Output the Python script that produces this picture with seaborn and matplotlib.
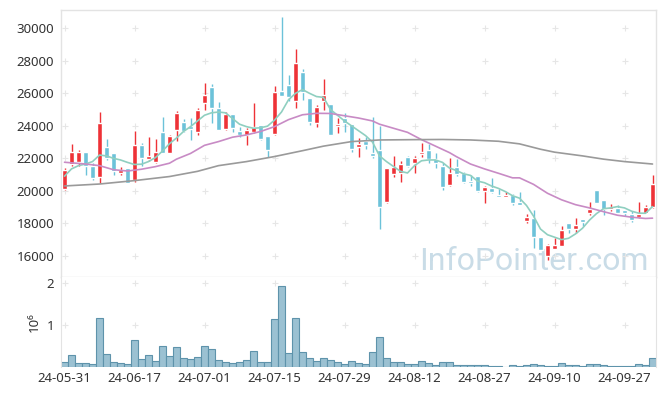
import numpy as np
import pandas as pd
import seaborn as sns
import matplotlib.pyplot as plt

# tick labels (every 10th trading day)
tick_labels = ["24-05-31", "24-06-17", "24-07-01", "24-07-15", "24-07-29",
               "24-08-12", "24-08-27", "24-09-10", "24-09-27"]

# daily prices (KRW)
opens = [20100, 21650, 21800, 22380, 21500, 20840, 22720, 22350, 21120, 21390,
         20670, 22820, 21940, 21800, 23620, 22350, 23750, 24260, 24000, 23640,
         25430, 26370, 25080, 23790, 24730, 23700, 23440, 23640, 24050, 23380,
         23500, 26160, 26510, 25550, 27330, 25690, 24200, 25550, 25340, 23990,
         24460, 24110, 22680, 23090, 22350, 22520, 19340, 21040, 21080, 22060,
         21700, 22270, 22520, 21940, 21530, 20360, 21450, 21080, 20630, 20920,
         20010, 20180, 19750, 19650, 19750, 19340, 18170, 18310, 17190, 16000,
         16410, 16610, 18050, 17640, 18250, 18660, 20060, 19440, 18870, 18930,
         18830, 18580, 18380, 18660, 18990]
highs = [21390, 22870, 22520, 22380, 21700, 24830, 23170, 22350, 21490, 21390,
         23680, 22970, 23290, 23170, 24520, 23440, 24930, 24400, 24460, 25080,
         26620, 26550, 25490, 24870, 24730, 23910, 23850, 25430, 24050, 23380,
         26450, 30670, 27130, 28710, 27480, 25690, 25280, 26860, 25340, 24460,
         24770, 24110, 23230, 23340, 24520, 23990, 21390, 22150, 21860, 22150,
         22150, 22925, 22880, 22310, 21700, 22000, 21940, 21180, 20980, 20920,
         20300, 20770, 20100, 19950, 19800, 19900, 18580, 18830, 17190, 16740,
         17090, 17840, 18050, 18310, 18250, 19340, 20060, 19440, 19200, 19140,
         18830, 18730, 19340, 19140, 20980]
lows = [20050, 21530, 21530, 20980, 20670, 20470, 21900, 20980, 20980, 20470,
        20570, 21530, 21840, 21700, 22310, 22350, 23090, 23640, 23130, 23440,
        24980, 24150, 23750, 23750, 23640, 23290, 22800, 23580, 23130, 22100,
        23440, 25840, 25550, 25080, 25590, 24050, 23950, 24980, 23440, 23540,
        23640, 22410, 22060, 22560, 22000, 17640, 19280, 20880, 20570, 21450,
        21120, 22110, 21740, 21390, 20060, 20300, 20920, 20470, 20300, 19950,
        19240, 19850, 19650, 19600, 19130, 19100, 18050, 16470, 16340, 15750,
        16410, 16580, 17390, 17390, 17840, 18520, 19240, 18520, 18790, 18660,
        18460, 18110, 18310, 18620, 18930]
closes = [21290, 22380, 22380, 21500, 20820, 24150, 22000, 21250, 21290, 20510,
          22820, 22000, 22150, 22390, 22310, 23380, 24770, 23700, 23800, 24980,
          25900, 25080, 23750, 24730, 23890, 23440, 23750, 23910, 23170, 22520,
          26100, 25840, 25800, 27890, 26100, 24260, 25140, 25900, 23440, 24090,
          24200, 22560, 22880, 22820, 22150, 18990, 21390, 21490, 21650, 21530,
          22000, 22410, 21940, 21700, 20260, 21080, 21050, 20570, 20510, 19990,
          20240, 19900, 19650, 19750, 19240, 19140, 18420, 17190, 16370, 16680,
          16680, 17600, 17640, 17900, 18110, 18870, 19240, 18870, 19030, 18660,
          18620, 18210, 18580, 19030, 20430]

# volume in millions of shares
volumes = [0.12, 0.29, 0.10, 0.10, 0.07, 1.18, 0.31, 0.12, 0.10, 0.07,
           0.65, 0.19, 0.29, 0.14, 0.50, 0.26, 0.48, 0.22, 0.19, 0.24,
           0.50, 0.43, 0.17, 0.12, 0.10, 0.12, 0.17, 0.38, 0.12, 0.12,
           1.15, 1.94, 0.34, 1.18, 0.36, 0.22, 0.14, 0.22, 0.17, 0.13,
           0.07, 0.14, 0.10, 0.07, 0.36, 0.72, 0.22, 0.12, 0.12, 0.07,
           0.07, 0.14, 0.10, 0.05, 0.12, 0.12, 0.05, 0.05, 0.05, 0.05,
           0.05, 0.02, 0.02, 0.005, 0.05, 0.02, 0.05, 0.07, 0.05, 0.02,
           0.02, 0.10, 0.05, 0.05, 0.02, 0.07, 0.07, 0.05, 0.02, 0.02,
           0.02, 0.02, 0.07, 0.05, 0.22]

# moving averages
ma5 = [20900, 21350, 21550, 21650, 21800, 22200, 22150, 22000, 21900, 21750,
       21620, 21640, 21800, 22050, 22450, 22900, 23250, 23650, 23950, 24300,
       24650, 24800, 24850, 24800, 24450, 24100, 23950, 23850, 23880, 23980,
       24350, 24850, 25600, 26000, 26230, 26000, 25800, 25750, 25000, 24650,
       24300, 24000, 23700, 23400, 23000, 22150, 21800, 21500, 21200, 21100,
       21550, 21850, 21900, 21900, 21750, 21400, 21250, 21050, 20950, 20600,
       20500, 20300, 20150, 19950, 19700, 19550, 19100, 18450, 17650, 17300,
       17150, 17000, 17080, 17350, 17700, 18200, 18600, 18900, 18950, 19030,
       18950, 18750, 18630, 18620, 19030]
ma20_day = [0, 3, 5, 7, 9, 11, 13, 15, 16, 18, 20, 22, 24, 26, 28, 30, 32, 34,
            36, 38, 40, 42, 44, 45, 47, 49, 51, 53, 55, 56, 58, 60, 62, 64, 65,
            67, 69, 71, 73, 75, 77, 79, 81, 83, 84]
ma20 = [21760, 21650, 21550, 21300, 21220, 21330, 21490, 21700, 21950, 22300,
        22800, 23030, 23300, 23440, 23650, 23950, 24380, 24680, 24770, 24760,
        24620, 24480, 24300, 24100, 23850, 23600, 23150, 22750, 22350, 22100,
        21650, 21350, 21080, 20800, 20800, 20400, 19850, 19450, 19150, 18950,
        18720, 18500, 18380, 18300, 18320]
ma_long_day = [0, 5, 10, 15, 19, 22, 26, 30, 34, 37, 41, 45, 50, 54, 58, 62, 65,
               68, 70, 74, 77, 80, 84]
ma_long = [20300, 20420, 20630, 20880, 21200, 21550, 21800, 22110, 22470, 22750,
           23030, 23130, 23150, 23160, 23130, 23050, 22890, 22560, 22380, 22150,
           21950, 21800, 21650]

days = np.arange(len(closes))
df = pd.DataFrame({"day": days, "open": opens, "high": highs, "low": lows,
                   "close": closes, "volume": volumes, "ma5": ma5})

sns.set_style("white")
plt.rcParams['font.family'] = ['Noto Sans', 'DejaVu Sans']

fig = plt.figure(figsize=(6.65, 3.96), dpi=100)
ax = fig.add_axes([61 / 665, 119 / 396, 595 / 665, 267 / 396])
axv = fig.add_axes([61 / 665, 29 / 396, 595 / 665, 90 / 396], sharex=ax)

red = "#ee3237"
blue = "#6cc2d9"
up = df["close"] >= df["open"]
colors = np.where(up, red, blue)

# watermark behind everything
ax.text(0.987, 0.025, "InfoPointer.com", transform=ax.transAxes, ha="right",
        va="baseline", fontsize=23, family="Roboto", color="#c9dce7", zorder=0)

# candles
ax.vlines(df["day"], df["low"], df["high"], colors=colors, linewidth=1, zorder=2)
body_lo = df[["open", "close"]].min(axis=1)
body_h = (df["close"] - df["open"]).abs().clip(lower=70)
ax.bar(df["day"], body_h, bottom=body_lo, width=0.7, color=colors, zorder=3)

# moving averages
sns.lineplot(x=days, y=ma5, ax=ax, color="#8fcfc0", linewidth=1.2, zorder=4)
sns.lineplot(x=ma20_day, y=ma20, ax=ax, color="#c88bc5", linewidth=1.2, zorder=4)
sns.lineplot(x=ma_long_day, y=ma_long, ax=ax, color="#9a9a9a", linewidth=1.2, zorder=4)

ax.set_xlim(-0.5, 84.5)
ax.set_ylim(14700, 31125)
yt = np.arange(16000, 30001, 2000)
ax.set_yticks(yt)
ax.set_yticklabels([str(v) for v in yt])
xt = np.arange(0, 81, 10)
gx, gy = np.meshgrid(xt, yt)
ax.plot(gx.ravel(), gy.ravel(), "+", color="#e6e6e6", markersize=4.5, mew=0.8, zorder=1)
ax.tick_params(axis="x", labelbottom=False, length=0)
ax.tick_params(axis="y", length=0, labelsize=9.5, labelcolor="#333333", pad=5)
ax.set_xlabel("")
ax.set_ylabel("")
for s in ax.spines.values():
    s.set_color("#e3e3e3")
    s.set_linewidth(1)

# volume
sns.barplot(x=df["day"], y=df["volume"], ax=axv, native_scale=True, width=1.0,
            color="#9bc1d2", edgecolor="#5e93ab", linewidth=0.8, saturation=1,
            errorbar=None, zorder=2)
axv.set_ylim(0, 2.15)
axv.set_yticks([1, 2])
axv.set_yticklabels(["1", "2"])
vx, vy = np.meshgrid(xt, [1, 2])
axv.plot(vx.ravel(), vy.ravel(), "+", color="#e6e6e6", markersize=4.5, mew=0.8, zorder=1)
axv.set_xticks(xt)
axv.set_xticklabels(tick_labels)
axv.set_xlim(-0.5, 84.5)
axv.tick_params(axis="both", length=0, labelsize=9.5, labelcolor="#333333")
axv.tick_params(axis="y", pad=5)
axv.set_xlabel("")
axv.set_ylabel("10⁶", fontsize=9.5, color="#333333", labelpad=4)
for k, s in axv.spines.items():
    s.set_color("#e3e3e3")
axv.spines["top"].set_visible(False)
axv.spines["bottom"].set_visible(False)

fig.savefig("out.png", dpi=100)
